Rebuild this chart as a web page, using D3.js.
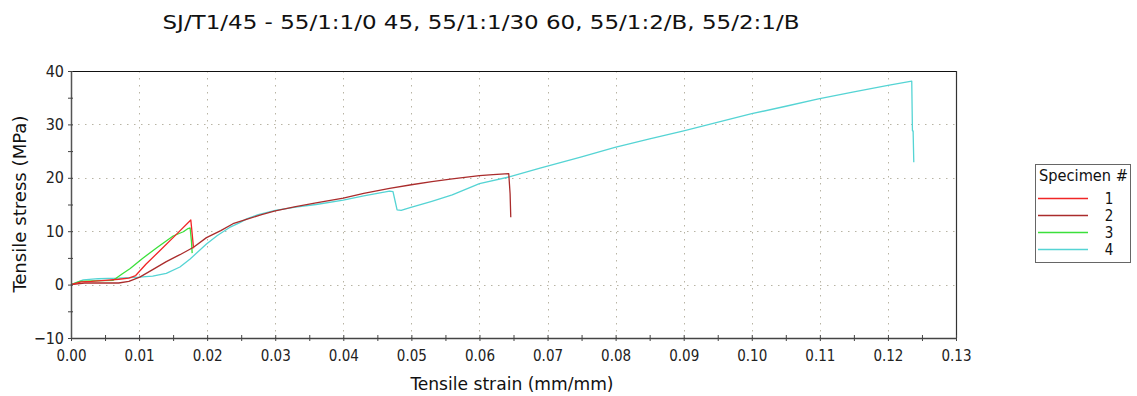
<!DOCTYPE html>
<html>
<head>
<meta charset="utf-8">
<script src="https://cdn.jsdelivr.net/npm/d3@7"></script>
<style>
  html, body { margin: 0; padding: 0; background: #fff; }
  svg { display: block; font-family: "DejaVu Sans Condensed", "DejaVu Sans", sans-serif; }
</style>
</head>
<body>
<svg id="chart" width="1137" height="396"></svg>
<script>
// Tensile test curves: strain (mm/mm) vs stress (MPa) for four specimens
const strain1 = [0, 0.0015, 0.003, 0.005, 0.007, 0.0085, 0.0095, 0.011, 0.013, 0.015, 0.0176, 0.0178, 0.0180];
const stress1 = [0, 0.5, 0.6, 0.8, 1.0, 1.2, 1.7, 3.8, 6.3, 8.8, 12.1, 9.5, 6.8];

const strain2 = [0, 0.002, 0.004, 0.007, 0.0085, 0.0101, 0.012, 0.014, 0.016, 0.018, 0.0199, 0.022, 0.0238, 0.026, 0.028, 0.030, 0.033, 0.036, 0.040, 0.043, 0.0468, 0.050, 0.053, 0.056, 0.060, 0.062, 0.0643, 0.0645, 0.0646];
const stress2 = [0, 0.3, 0.3, 0.3, 0.6, 1.4, 2.8, 4.3, 5.6, 7.0, 8.8, 10.1, 11.4, 12.3, 13.1, 13.8, 14.6, 15.3, 16.2, 17.1, 18.0, 18.7, 19.3, 19.8, 20.4, 20.6, 20.8, 17.0, 12.6];

const strain3 = [0, 0.0013, 0.003, 0.0062, 0.0075, 0.0087, 0.0105, 0.0126, 0.015, 0.0165, 0.0172, 0.0175, 0.0177, 0.0178];
const stress3 = [0, 0.6, 0.7, 0.8, 2.0, 3.0, 4.9, 6.9, 9.1, 9.9, 10.5, 10.6, 8.0, 5.9];

const strain4 = [0, 0.0018, 0.004, 0.007, 0.010, 0.012, 0.014, 0.016, 0.0175, 0.0199, 0.0215, 0.0233, 0.0248, 0.0258, 0.0275, 0.0287, 0.030, 0.033, 0.036, 0.040, 0.043, 0.0468, 0.0473, 0.0476, 0.0479, 0.0485, 0.0498, 0.053, 0.056, 0.060, 0.0645, 0.0689, 0.075, 0.0799, 0.085, 0.090, 0.0968, 0.100, 0.105, 0.1098, 0.115, 0.120, 0.1235, 0.1236, 0.1237, 0.1238];
const stress4 = [0, 0.9, 1.1, 1.2, 1.4, 1.6, 2.1, 3.3, 4.8, 7.6, 9.2, 10.7, 11.6, 12.3, 13.1, 13.5, 13.9, 14.5, 15.0, 15.8, 16.6, 17.5, 17.4, 15.7, 14.0, 13.9, 14.4, 15.6, 16.8, 18.9, 20.2, 21.8, 23.9, 25.7, 27.3, 28.8, 31.0, 32.0, 33.4, 34.8, 36.1, 37.3, 38.1, 28.8, 28.8, 22.9];

const specimenNames = ["1", "2", "3", "4"];
const specimenColors = ["#f02626", "#aa2c2c", "#3be03b", "#55d4d4"];

const xTickValues = d3.range(0, 0.1301, 0.01);
const xMinorTicks = d3.range(0, 0.1301, 0.005);
const yTickValues = [-10, 0, 10, 20, 30, 40];
const yMinorTicks = d3.range(-10, 40.1, 5);

const titleText = "SJ/T1/45 - 55/1:1/0 45, 55/1:1/30 60, 55/1:2/B, 55/2:1/B";
const xLabel = "Tensile strain (mm/mm)";
const yLabel = "Tensile stress (MPa)";
const legendTitle = "Specimen #";

const series = [
  d3.zip(strain1, stress1),
  d3.zip(strain2, stress2),
  d3.zip(strain3, stress3),
  d3.zip(strain4, stress4)
];

const svg = d3.select("#chart");
const plot = { left: 71, top: 71, right: 956, bottom: 338 };

const x = d3.scaleLinear().domain([0, 0.13]).range([plot.left, plot.right]);
const y = d3.scaleLinear().domain([-10, 40]).range([plot.bottom, plot.top]);

// Dotted grid at major ticks
const grid = svg.append("g").attr("stroke", "#b8b4a4").attr("stroke-width", 1)
  .attr("stroke-dasharray", "1.5,5.5");
grid.selectAll("line.v").data(xTickValues.filter(v => v > 0.001 && v < 0.129))
  .join("line").attr("class", "v")
  .attr("x1", d => Math.round(x(d)) + 0.5).attr("x2", d => Math.round(x(d)) + 0.5)
  .attr("y1", plot.top).attr("y2", plot.bottom);
grid.selectAll("line.h").data(yTickValues.filter(v => v > -10 && v < 40))
  .join("line").attr("class", "h")
  .attr("y1", d => Math.round(y(d)) + 0.5).attr("y2", d => Math.round(y(d)) + 0.5)
  .attr("x1", plot.left).attr("x2", plot.right);

// Frame: top and right edges
svg.append("line").attr("x1", plot.left).attr("x2", plot.right)
  .attr("y1", plot.top + 0.5).attr("y2", plot.top + 0.5)
  .attr("stroke", "#111").attr("stroke-width", 1.2);
svg.append("line").attr("x1", plot.right + 0.5).attr("x2", plot.right + 0.5)
  .attr("y1", plot.top).attr("y2", plot.bottom)
  .attr("stroke", "#333").attr("stroke-width", 1.2);

// Curves
const line = d3.line().x(d => x(d[0])).y(d => y(d[1]));
const drawOrder = [3, 2, 1, 0];
svg.append("g").attr("fill", "none").attr("stroke-width", 1.3).attr("stroke-linejoin", "round")
  .selectAll("path").data(drawOrder).join("path")
  .attr("d", i => line(series[i]))
  .attr("stroke", i => specimenColors[i]);

// Axes
const xAxis = d3.axisBottom(x).tickValues(xMinorTicks)
  .tickFormat(d => xTickValues.some(t => Math.abs(t - d) < 1e-9) ? d3.format(".2f")(d) : "")
  .tickSizeInner(3).tickSizeOuter(0).tickPadding(9);
const gx = svg.append("g").attr("transform", `translate(0,${plot.bottom})`).call(xAxis);
gx.select(".domain").attr("stroke", "#444").attr("stroke-width", 1.5);
gx.selectAll(".tick line").attr("stroke", "#444").attr("y1", -3).attr("y2", 3);
gx.selectAll(".tick text").attr("font-size", 15).attr("fill", "#222")
  .attr("font-family", "\"DejaVu Sans Condensed\", sans-serif");

const yAxis = d3.axisLeft(y).tickValues(yMinorTicks)
  .tickFormat(d => yTickValues.includes(d) ? d3.format("d")(d) : "")
  .tickSizeInner(3).tickSizeOuter(0).tickPadding(4);
const gy = svg.append("g").attr("transform", `translate(${plot.left},0)`).call(yAxis);
gy.select(".domain").attr("stroke", "#555").attr("stroke-width", 1.5);
gy.selectAll(".tick line").attr("stroke", "#444").attr("x1", 2).attr("x2", -3);
gy.selectAll(".tick text").attr("font-size", 16).attr("fill", "#222")
  .attr("font-family", "\"DejaVu Sans Condensed\", sans-serif");

// Title and axis labels
svg.append("text").attr("x", 481).attr("y", 29).attr("text-anchor", "middle")
  .attr("font-size", 19).attr("fill", "#111")
  .attr("textLength", 637).attr("lengthAdjust", "spacingAndGlyphs")
  .text(titleText);
svg.append("text").attr("x", 512).attr("y", 390).attr("text-anchor", "middle")
  .attr("font-size", 17).attr("fill", "#111")
  .attr("textLength", 203).attr("lengthAdjust", "spacingAndGlyphs")
  .text(xLabel);
svg.append("text").attr("transform", "translate(26,204) rotate(-90)").attr("text-anchor", "middle")
  .attr("font-size", 17).attr("fill", "#111")
  .attr("textLength", 177).attr("lengthAdjust", "spacingAndGlyphs")
  .text(yLabel);

// Legend
const legend = svg.append("g");
legend.append("rect").attr("x", 1035.5).attr("y", 164.5).attr("width", 95).attr("height", 98)
  .attr("fill", "#fff").attr("stroke", "#666").attr("stroke-width", 1);
legend.append("text").attr("x", 1039).attr("y", 181).attr("font-size", 15).attr("fill", "#111")
  .attr("textLength", 89).attr("lengthAdjust", "spacingAndGlyphs")
  .text(legendTitle);
const legendY = d3.scalePoint().domain(specimenNames).range([198, 249]);
const items = legend.selectAll("g.item").data(specimenNames).join("g").attr("class", "item");
items.append("line").attr("x1", 1038).attr("x2", 1088)
  .attr("y1", d => legendY(d) + 0.5).attr("y2", d => legendY(d) + 0.5)
  .attr("stroke", (d, i) => specimenColors[i]).attr("stroke-width", 1.3);
items.append("text").attr("x", 1109).attr("y", d => legendY(d) + 6)
  .attr("text-anchor", "middle").attr("font-size", 15).attr("fill", "#111")
  .text(d => d);
</script>
</body>
</html>
